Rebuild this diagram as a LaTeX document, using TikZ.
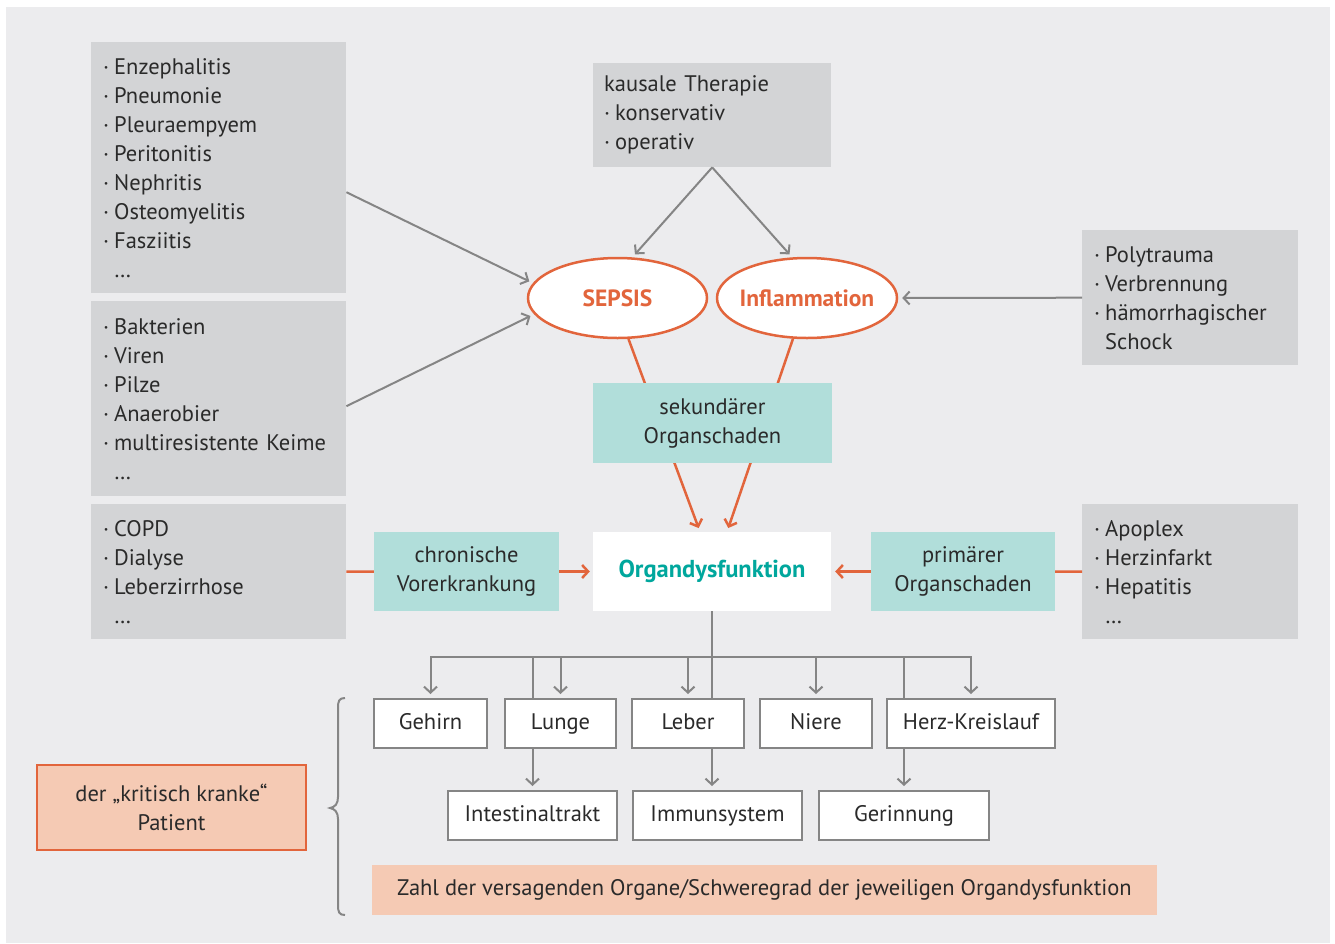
\documentclass[tikz,border=0pt]{standalone}
\usepackage{fontspec}
\setmainfont{PT Sans}
\usetikzlibrary{arrows.meta,shapes.geometric}
\pgfdeclarelayer{bg}\pgfdeclarelayer{back}
\pgfsetlayers{bg,back,main}
\definecolor{bgc}{HTML}{ECECEE}
\definecolor{grayc}{HTML}{D3D4D6}
\definecolor{tealc}{HTML}{B1DEDA}
\definecolor{tealtext}{HTML}{00A79D}
\definecolor{orangec}{HTML}{E2653C}
\definecolor{peachc}{HTML}{F5CAB4}
\definecolor{linec}{HTML}{858585}
\definecolor{textc}{HTML}{2A2A2A}
\newcommand\bul{\makebox[11pt][l]{\textperiodcentered}}
\newcommand\nob{\makebox[11pt][l]{}}
\begin{document}
\begin{tikzpicture}[x=1pt,y=-1pt,
  base/.style={font=\fontsize{22.5}{29}\selectfont, text=textc, inner sep=0pt},
  lbox/.style={base, fill=grayc, align=left, anchor=north west, inner xsep=12pt},
  tbox/.style={base, fill=tealc, align=center},
  obox/.style={base, fill=white, draw=linec, line width=2pt, minimum height=49pt,
     text height=16pt, text depth=5pt},
  ell/.style={ellipse, draw=orangec, line width=2.5pt, fill=white, inner sep=0pt,
     font=\fontsize{23.5}{28}\selectfont\bfseries, text=orangec},
  garrow/.style={draw=linec, line width=2pt, -{Straight Barb[length=6pt,width=13pt]}, shorten >=4pt},
  oline/.style={draw=orangec, line width=2.5pt},
  oarrow/.style={oline, -{Straight Barb[length=6pt,width=13pt]}, shorten >=4pt},
]
\useasboundingbox (0,0) rectangle (1335,943);
\begin{pgfonlayer}{bg}
\fill[bgc] (6,7) rectangle (1330,943);
\end{pgfonlayer}

% list boxes
\node[lbox, text width=231pt, minimum height=251pt] (A) at (91,42)
 {\bul Enzephalitis\\\bul Pneumonie\\\bul Pleuraempyem\\\bul Peritonitis\\\bul Nephritis\\\bul Osteomyelitis\\\bul Fasziitis\\\nob …};
\node[lbox, text width=231pt, minimum height=195pt] (B) at (91,301)
 {\bul Bakterien\\\bul Viren\\\bul Pilze\\\bul Anaerobier\\\bul multiresistente Keime\\\nob …};
\node[lbox, text width=231pt, minimum height=135pt] (C) at (91,504)
 {\bul COPD\\\bul Dialyse\\\bul Leberzirrhose\\\nob …};
\node[lbox, inner xsep=11pt, text width=216pt, minimum height=104pt] (ther) at (593,63)
 {kausale Therapie\\\bul konservativ\\\bul operativ};
\node[lbox, text width=192pt, minimum height=135pt] (poly) at (1082,230)
 {\bul Polytrauma\\\bul Verbrennung\\\bul hämorrhagischer\\\nob Schock};
\node[lbox, text width=192pt, minimum height=135pt] (apo) at (1082,504)
 {\bul Apoplex\\\bul Herzinfarkt\\\bul Hepatitis\\\nob …};

% ellipses
\node[ell, minimum width=179pt, minimum height=80pt] (sepsis) at (617.5,298) {\makebox[0pt]{SEPSIS}};
\node[ell, minimum width=180pt, minimum height=80pt] (inflam) at (807,298) {\makebox[0pt]{Inflammation}};

% teal boxes
\node[tbox, minimum width=239pt, minimum height=80pt] (sek) at (712.5,423) {sekundärer\\Organschaden};
\node[tbox, minimum width=185pt, minimum height=79pt] (chron) at (466.5,571.5) {chronische\\Vorerkrankung};
\node[tbox, minimum width=184pt, minimum height=79pt] (prim) at (963,571.5) {primärer\\Organschaden};
\node[base, fill=white, minimum width=238pt, minimum height=79pt,
  font=\fontsize{24.5}{28}\selectfont\bfseries, text=tealtext] (org) at (712,571.5) {Organdysfunktion};

% organ boxes
\node[obox, minimum width=113pt] (gehirn) at (430.5,723.5) {Gehirn};
\node[obox, minimum width=111pt] (lunge) at (560.5,723.5) {Lunge};
\node[obox, minimum width=112pt] (leber) at (688,723.5) {Leber};
\node[obox, minimum width=112pt] (niere) at (816,723.5) {Niere};
\node[obox, minimum width=168pt] (herz) at (971,723.5) {Herz-Kreislauf};
\node[obox, minimum width=169pt] (intest) at (532.5,815.5) {Intestinaltrakt};
\node[obox, minimum width=169pt] (immun) at (717.5,815.5) {Immunsystem};
\node[obox, minimum width=170pt] (gerinn) at (904,815.5) {Gerinnung};

\node[base, fill=peachc, minimum width=785pt, minimum height=50pt, text height=16pt, text depth=5pt] (zahl) at (764.5,890)
 {Zahl der versagenden Organe/Schweregrad der jeweiligen Organdysfunktion};
\node[base, fill=peachc, draw=orangec, line width=2.5pt, minimum width=269pt, minimum height=85pt, align=center]
 (patient) at (171.5,807.5) {der „kritisch kranke“\\Patient};

% gray connectors
\draw[garrow] ([yshift=-24.5pt]A.east) -- (sepsis.170);
\draw[garrow] ([yshift=-7.5pt]B.east) -- (sepsis.191);
\draw[garrow] (ther.south) -- (sepsis.70);
\draw[garrow] (ther.south) -- (inflam.110);
\draw[garrow] (poly.west) -- (inflam.east);

% orange connectors
\draw[oline] (C.east) -- (chron.west);
\draw[oarrow, shorten >=3pt] (chron.east) -- (org.west);
\draw[oarrow] (prim.west) -- (org.east);
\draw[oline] (apo.west) -- (prim.east);
\begin{pgfonlayer}{back}
\draw[oarrow] (sepsis.-75) -- ([xshift=-12pt]org.north);
\draw[oarrow] (inflam.-109) -- ([xshift=15pt]org.north);
\end{pgfonlayer}

% organ tree
\coordinate (hb) at (712,657);
\begin{pgfonlayer}{back}
\draw[garrow] (org.south) -- (org.south |- immun.north);
\draw[garrow] (intest.north |- hb) -- (intest.north);
\draw[garrow] (gerinn.north |- hb) -- (gerinn.north);
\end{pgfonlayer}
\draw[garrow] (hb) -| (gehirn.north);
\draw[garrow] (hb) -| (herz.north);
\draw[garrow] (lunge.north |- hb) -- (lunge.north);
\draw[garrow] (leber.north |- hb) -- (leber.north);
\draw[garrow] (niere.north |- hb) -- (niere.north);

% brace
\draw[linec, line width=2pt] (345,698) .. controls (339,698) and (338,701) .. (338,708)
  -- (338,797) .. controls (338,804) and (335,807) .. (330,808)
  .. controls (335,809) and (338,812) .. (338,819)
  -- (338,905) .. controls (338,912) and (339,915) .. (345,915);
\end{tikzpicture}
\end{document}
